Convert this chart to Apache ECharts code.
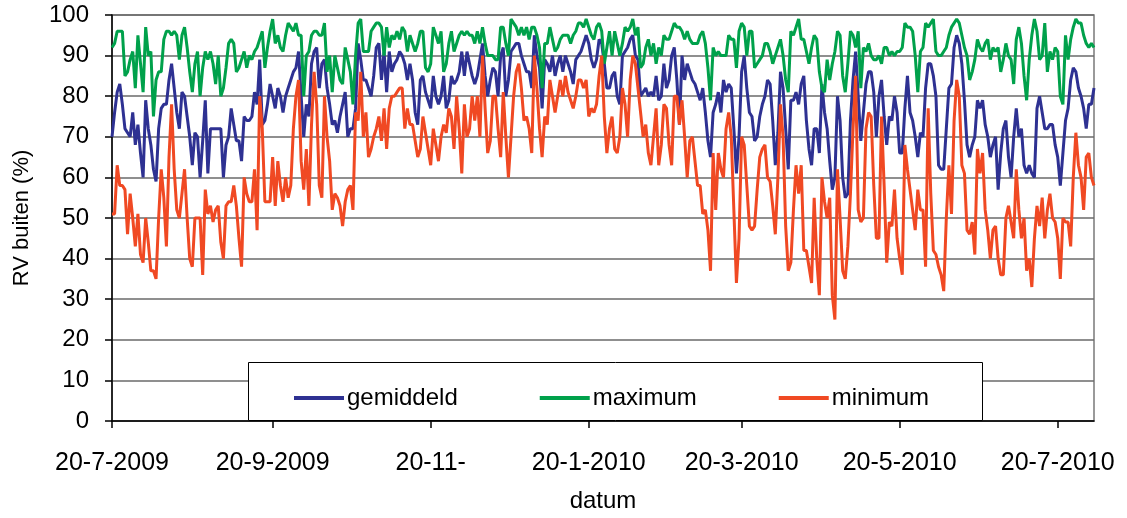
<!DOCTYPE html>
<html>
<head>
<meta charset="utf-8">
<script src="https://cdn.jsdelivr.net/npm/echarts@6/dist/echarts.min.js"></script>
<style>
html,body{margin:0;padding:0;background:#fff;}
#c{width:1127px;height:518px;}
</style>
</head>
<body>
<div id="c"></div>
<script>
// Daily series, 20-7-2009 .. 2-8-2010 (380 days)
const startDate = [2009, 7, 20];
const tickIndexes = [0, 62, 123, 184, 243, 304, 365];
const tickLabels = ['20-7-2009', '20-9-2009', '20-11-', '20-1-2010', '20-3-2010', '20-5-2010', '20-7-2010'];
const seriesNames = ['gemiddeld', 'maximum', 'minimum'];

const gemiddeld = [
70,76,81,83,78,72,71,70,76,68, 73,66,60,79,72,68,62,59,72,77, 78,78,84,88,82,76,72,81,80,75, 70,63,71,70,60,69,79,61,72,72, 72,72,72,60,68,70,
77,73,69,69,64,75,74,74,75,81, 78,89,73,74,78,83,80,77,82,80, 76,80,82,84,86,87,91,80,70,78, 75,88,91,92,82,88,89,82,78,73, 74,71,75,78,81,70,72,72,
77,93,89,84,84,82,80,85,92,93, 84,91,81,91,86,88,89,91,90,88, 84,88,84,76,73,84,85,81,79,77, 85,80,78,80,85,77,79,85,83,84, 86,91,85,91,88,85,83,85,89,93,
85,80,84,87,86,80,90,92,80,84, 91,92,93,93,90,88,86,86,82,95, 90,87,77,89,88,86,90,85,88,90, 86,90,88,86,83,89,90,91,93,95, 93,89,87,89,94,93,88,
82,82,85,86,80,78,90,91,92,94, 95,90,89,80,81,82,80,81,80,85, 79,80,88,82,84,90,92,84,73,90, 84,88,86,84,83,81,79,82,76,69, 65,76,78,81,76,84,81,83,
82,72,61,70,86,90,82,76,75,69, 70,75,78,80,84,83,74,63,71,86, 82,72,62,79,79,81,78,83,85,74, 67,63,72,72,66,83,76,72,64,57, 60,80,74,60,55,56,74,84,91,
80,69,76,83,86,86,81,70,80,84, 75,68,75,74,80,76,66,66,77,85, 76,74,70,65,71,70,82,88,88,85, 80,63,62,62,72,82,83,92,95,93, 88,79,68,65,68,70,
79,77,79,73,70,65,68,70,57,66, 72,74,65,60,70,77,70,72,63,61, 63,61,60,77,80,76,72,72,73,73, 68,65,58,66,74,77,84,87,86,82, 80,77,72,78,78,82
];

const maximum = [
92,93,96,96,96,85,86,89,91,82, 95,88,81,97,90,91,75,84,86,86, 94,96,96,95,96,95,89,95,97,92, 86,81,88,91,80,87,91,89,91,88, 83,90,80,82,87,93,
94,93,86,87,89,91,87,90,89,91, 92,94,96,87,92,96,99,93,95,92, 91,95,98,97,96,98,95,95,80,90, 91,95,96,96,95,95,98,86,90,81, 90,87,84,83,92,89,86,78,
90,98,99,91,91,91,96,97,98,98, 97,90,97,92,95,94,96,94,97,96, 91,95,93,91,93,96,96,87,86,88, 97,95,93,96,86,88,93,96,91,93, 95,96,95,96,95,95,93,96,93,97,
93,90,90,90,89,89,97,97,93,90, 99,98,97,95,97,95,97,94,97,97, 95,92,82,93,93,97,94,91,92,94, 95,95,95,93,95,96,98,98,97,99, 97,95,94,97,98,96,88,
92,96,90,96,93,90,93,97,96,97, 99,95,97,87,88,92,94,90,93,88, 92,90,95,94,94,96,98,97,97,96, 94,96,94,93,93,93,95,96,93,87, 79,92,90,91,90,90,90,95,
94,94,87,96,98,97,90,96,96,87, 88,89,90,93,93,91,88,90,92,94, 90,84,81,96,95,97,99,94,94,91, 88,92,95,94,86,82,81,89,84,88, 91,96,95,85,81,88,96,95,92,
96,82,92,91,93,90,89,89,90,88, 92,92,90,91,90,91,91,92,98,97, 97,96,90,81,91,92,98,97,98,99, 91,90,90,91,92,95,97,98,99,98, 95,92,90,84,86,89,
94,92,91,93,94,89,92,91,92,86, 89,93,90,89,83,94,97,93,85,79, 89,95,99,96,89,90,98,86,91,89, 92,91,80,78,95,89,94,97,99,98, 98,95,93,92,93,92
];

const minimum = [
51,51,63,58,58,57,46,56,50,43, 51,41,39,50,44,37,37,35,50,62, 55,43,65,78,62,52,50,56,62,50, 40,38,50,50,50,36,57,51,53,49, 52,53,44,40,53,54,
54,58,53,45,38,60,56,54,54,62, 47,80,72,54,54,54,65,53,64,58, 54,60,55,58,72,80,84,64,57,67, 53,73,86,78,58,55,80,70,64,52, 56,55,53,48,54,57,58,52,
76,74,86,70,76,65,67,70,72,75, 69,77,67,77,80,80,81,82,82,72, 77,73,73,69,65,67,75,71,67,63, 72,68,64,70,73,71,77,75,67,80, 72,61,78,70,72,80,74,80,70,90,
77,66,69,80,80,72,65,81,70,60, 70,80,86,88,82,74,75,72,66,90, 82,72,65,75,73,84,80,76,80,84, 80,85,81,79,77,80,84,84,82,84, 75,77,76,78,85,90,75,
66,72,75,67,66,70,82,78,70,84, 90,88,82,76,70,73,66,63,70,77, 63,68,78,77,68,63,80,80,73,79, 70,60,69,70,64,58,58,51,52,47, 37,66,52,66,62,60,72,76,
70,52,34,45,70,68,58,48,47,48, 57,65,67,68,60,59,53,46,60,78, 70,48,37,39,52,63,56,63,42,42, 38,34,55,40,31,60,54,50,55,31, 25,62,50,37,35,43,56,72,85,
52,49,50,72,76,75,58,45,45,75, 58,39,49,48,57,45,40,36,68,62, 57,52,47,57,52,52,38,77,56,42, 41,38,36,32,50,63,51,74,84,80, 63,61,47,46,49,41,
67,61,66,52,47,40,47,48,40,36, 36,50,53,49,45,62,52,45,50,37, 40,33,45,53,48,55,45,52,56,50, 49,45,35,50,49,49,43,60,71,63, 60,52,65,66,60,58
];

const categories = [];
(function () {
  const d0 = new Date(startDate[0], startDate[1] - 1, startDate[2]);
  for (let i = 0; i < gemiddeld.length; i++) {
    const d = new Date(d0.getTime());
    d.setDate(d0.getDate() + i);
    categories.push(d.getDate() + '-' + (d.getMonth() + 1) + '-' + d.getFullYear());
  }
})();

const FONT = 'Liberation Sans, Arial, sans-serif';
const isTick = function (idx) { return tickIndexes.indexOf(idx) >= 0; };

const chart = echarts.init(document.getElementById('c'), null, { renderer: 'canvas' });
chart.setOption({
  animation: false,
  backgroundColor: '#ffffff',
  grid: {
    left: 112, right: 33, top: 15, bottom: 97,
    outerBoundsMode: 'none', containLabel: false,
    show: true, borderColor: '#7a7a7a', borderWidth: 1.5, backgroundColor: 'transparent'
  },
  legend: {
    left: 289, top: 381,
    icon: 'rect', itemWidth: 50, itemHeight: 4, itemGap: 82,
    textStyle: { fontFamily: FONT, fontSize: 24, color: '#000', padding: [0, 0, 0, -2] },
    z: 20,
    data: seriesNames
  },
  graphic: [{
    type: 'rect', z: 10,
    shape: { x: 248.5, y: 362.5, width: 734, height: 58 },
    style: { fill: '#ffffff', stroke: '#000000', lineWidth: 1 }
  }],
  xAxis: {
    type: 'category', data: categories, boundaryGap: false,
    name: 'datum', nameLocation: 'middle', nameGap: 68,
    nameTextStyle: { fontFamily: FONT, fontSize: 24, color: '#000' },
    axisLine: { lineStyle: { color: '#000', width: 1.5 } },
    axisTick: { show: true, interval: isTick, length: 7, lineStyle: { color: '#000', width: 1.5 } },
    axisLabel: {
      interval: isTick, margin: 30, fontFamily: FONT, fontSize: 25, color: '#000',
      formatter: function (v, idx) { const k = tickIndexes.indexOf(idx); return k >= 0 ? tickLabels[k] : ''; }
    },
    splitLine: { show: false }
  },
  yAxis: {
    type: 'value', min: 0, max: 100, interval: 10,
    name: 'RV buiten (%)', nameLocation: 'middle', nameGap: 79, nameRotate: 90,
    nameTextStyle: { fontFamily: FONT, fontSize: 22, color: '#000' },
    axisLine: { show: true, lineStyle: { color: '#000', width: 1.5 } },
    axisTick: { show: true, length: 7, lineStyle: { color: '#000', width: 1.5 } },
    axisLabel: { margin: 23, fontFamily: FONT, fontSize: 24, color: '#000' },
    splitLine: { show: true, lineStyle: { color: '#6a6a6a', width: 1.5 } }
  },
  series: [
    { name: seriesNames[0], type: 'line', data: gemiddeld, symbol: 'none', z: 2,
      lineStyle: { color: '#2e3192', width: 3 }, itemStyle: { color: '#2e3192' } },
    { name: seriesNames[1], type: 'line', data: maximum, symbol: 'none', z: 3,
      lineStyle: { color: '#00a14b', width: 3 }, itemStyle: { color: '#00a14b' } },
    { name: seriesNames[2], type: 'line', data: minimum, symbol: 'none', z: 4,
      lineStyle: { color: '#f04923', width: 3 }, itemStyle: { color: '#f04923' } }
  ]
});
</script>
</body>
</html>
